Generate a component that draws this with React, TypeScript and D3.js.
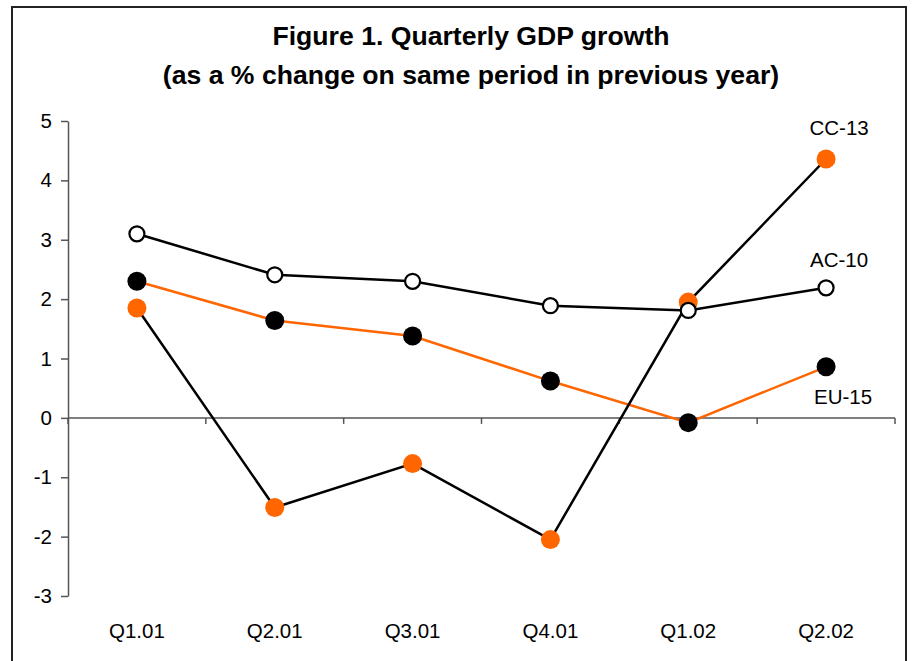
import React, { useEffect, useRef } from 'react';
import * as d3 from 'd3';

const quarters = ['Q1.01', 'Q2.01', 'Q3.01', 'Q4.01', 'Q1.02', 'Q2.02'];
const cc13 = [1.85, -1.51, -0.77, -2.05, 1.95, 4.36];
const ac10 = [3.1, 2.41, 2.3, 1.89, 1.81, 2.19];
const eu15 = [2.3, 1.64, 1.38, 0.62, -0.08, 0.86];
const yTicks = [-3, -2, -1, 0, 1, 2, 3, 4, 5];

const ORANGE = '#FF6600';
const FONT = '"Liberation Sans", Arial, sans-serif';

interface Series {
    name: string;
    values: number[];
    line: string;
    fill: string;
    stroke: string;
    r: number;
}

const series: Series[] = [
    { name: 'EU-15', values: eu15, line: ORANGE, fill: '#000', stroke: 'none', r: 9.5 },
    { name: 'CC-13', values: cc13, line: '#000', fill: ORANGE, stroke: 'none', r: 9.5 },
    { name: 'AC-10', values: ac10, line: '#000', fill: '#fff', stroke: '#000', r: 7.5 },
];

const App: React.FC = () => {
    const svgRef = useRef<SVGSVGElement>(null);
    const width = 912;
    const height = 661;

    useEffect(() => {
        if (!svgRef.current) return;
        const svg = d3.select(svgRef.current);
        svg.selectAll('*').remove();

        svg.append('rect')
            .attr('width', width)
            .attr('height', height)
            .attr('fill', '#fff');

        // outer frame
        svg.append('rect')
            .attr('x', 12)
            .attr('y', 7)
            .attr('width', 894)
            .attr('height', 700)
            .attr('fill', 'none')
            .attr('stroke', '#222')
            .attr('stroke-width', 2);

        // title
        const title = svg.append('text')
            .attr('text-anchor', 'middle')
            .style('font-family', FONT)
            .style('font-size', '26.6px')
            .style('font-weight', 'bold');
        title.append('tspan').attr('x', 471).attr('y', 45).text('Figure 1. Quarterly GDP growth');
        title.append('tspan').attr('x', 471).attr('y', 84).text('(as a % change on same period in previous year)');

        const x = d3.scaleBand<string>()
            .domain(quarters)
            .range([68, 895]);

        const y = d3.scaleLinear()
            .domain([-3, 5])
            .range([596, 121]);

        // y axis
        const yAxis = svg.append('g')
            .attr('transform', 'translate(68,0)')
            .call(d3.axisLeft(y).tickValues(yTicks).tickSize(7).tickSizeOuter(0).tickPadding(9));
        yAxis.select('.domain').attr('stroke', '#555').attr('stroke-width', 1.5);
        yAxis.selectAll('.tick line').attr('stroke', '#555').attr('stroke-width', 1.5);
        yAxis.selectAll<SVGTextElement, number>('text')
            .style('font-family', FONT)
            .style('font-size', '20.5px')
            .attr('fill', '#000')
            .text(d => String(d)); // plain hyphen for negatives

        // zero line with category ticks
        const [x0, x1] = x.range();
        svg.append('line')
            .attr('x1', x0)
            .attr('x2', x1)
            .attr('y1', y(0))
            .attr('y2', y(0))
            .attr('stroke', '#555')
            .attr('stroke-width', 1.5);

        const bounds = d3.range(quarters.length + 1).map(i => x0 + i * x.step());
        svg.selectAll('.xtick')
            .data(bounds)
            .enter()
            .append('line')
            .attr('x1', d => d)
            .attr('x2', d => d)
            .attr('y1', y(0))
            .attr('y2', y(0) + 6)
            .attr('stroke', '#555')
            .attr('stroke-width', 1.5);

        // category labels at the bottom
        svg.selectAll('.xlabel')
            .data(quarters)
            .enter()
            .append('text')
            .attr('x', d => (x(d) || 0) + x.bandwidth() / 2)
            .attr('y', 638)
            .attr('text-anchor', 'middle')
            .style('font-family', FONT)
            .style('font-size', '20.5px')
            .text(d => d);

        const line = d3.line<number>()
            .x((_, i) => (x(quarters[i]) || 0) + x.bandwidth() / 2)
            .y(d => y(d));

        series.forEach(s => {
            svg.append('path')
                .datum(s.values)
                .attr('d', line)
                .attr('fill', 'none')
                .attr('stroke', s.line)
                .attr('stroke-width', 2.5);

            svg.selectAll(null)
                .data(s.values)
                .enter()
                .append('circle')
                .attr('cx', (_, i) => (x(quarters[i]) || 0) + x.bandwidth() / 2)
                .attr('cy', d => y(d))
                .attr('r', s.r)
                .attr('fill', s.fill)
                .attr('stroke', s.stroke)
                .attr('stroke-width', 2.2);
        });

        // series labels next to the last points
        const last = quarters[quarters.length - 1];
        const lx = (x(last) || 0) + x.bandwidth() / 2;
        const labels = [
            { text: 'CC-13', x: lx + 13, y: y(cc13[5]) - 24 },
            { text: 'AC-10', x: lx + 13, y: y(ac10[5]) - 21 },
            { text: 'EU-15', x: lx + 17, y: y(eu15[5]) + 37 },
        ];
        svg.selectAll('.slabel')
            .data(labels)
            .enter()
            .append('text')
            .attr('x', d => d.x)
            .attr('y', d => d.y)
            .attr('text-anchor', 'middle')
            .style('font-family', FONT)
            .style('font-size', '20.5px')
            .text(d => d.text);
    }, []);

    return (
        <svg
            ref={svgRef}
            width={width}
            height={height}
            style={{ position: 'absolute', left: 0, top: 0 }}
        ></svg>
    );
};

export default App;
